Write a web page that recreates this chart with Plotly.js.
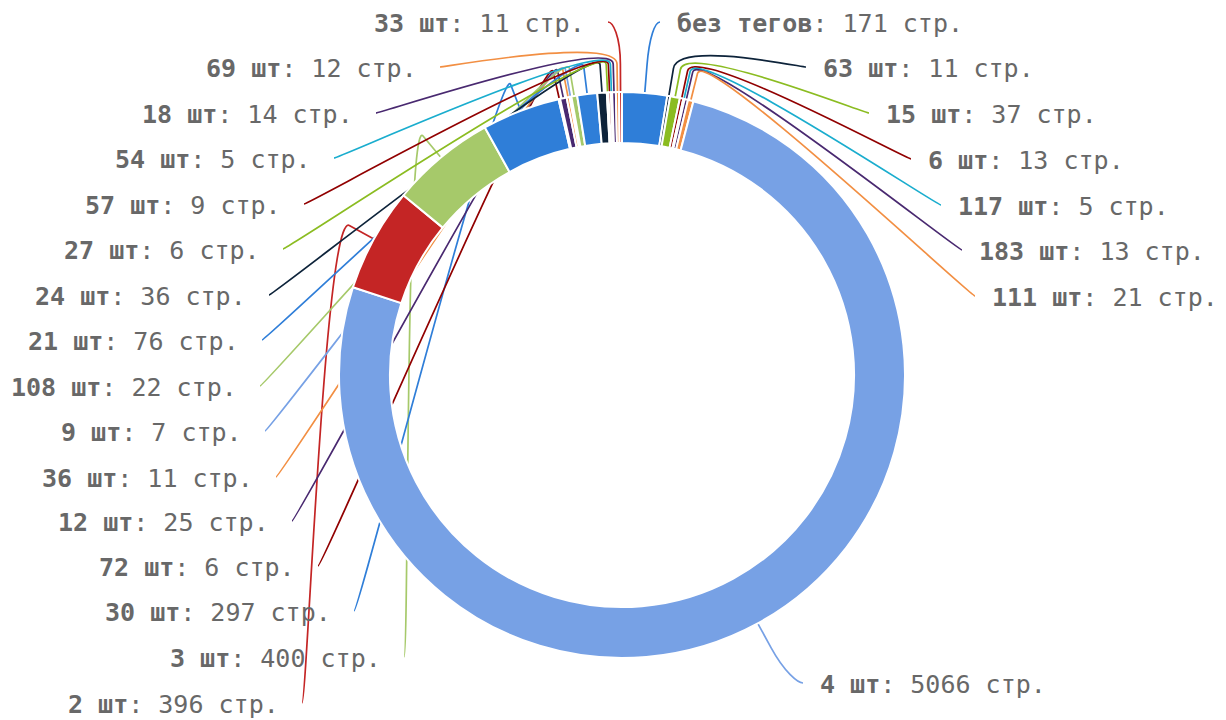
<!DOCTYPE html>
<html>
<head>
<meta charset="utf-8">
<script src="https://cdn.plot.ly/plotly-3.0.1.min.js"></script>
<style>
  html, body { margin: 0; padding: 0; background: #ffffff; }
  #chart { width: 1226px; height: 720px; }
</style>
</head>
<body>
<div id="chart"></div>
<script>
// ---- data (clockwise from 12 o'clock) ----
const tagCounts = ['без тегов', '63 шт', '15 шт', '6 шт', '117 шт', '183 шт', '111 шт', '4 шт',
  '2 шт', '3 шт', '30 шт', '72 шт', '12 шт', '36 шт', '9 шт', '108 шт', '21 шт', '24 шт',
  '27 шт', '57 шт', '54 шт', '18 шт', '69 шт', '33 шт'];
const pageCounts = [171, 11, 37, 13, 5, 13, 21, 5066, 396, 400, 297, 6, 25, 11, 7, 22, 76, 36,
  6, 9, 5, 14, 12, 11];
const unit = 'стр.';

// ---- styles / layout ----
const sliceColors = ['#2f7ed8', '#0d233a', '#8bbc21', '#910000', '#1aadce', '#492970', '#f28f43',
  '#77a1e5', '#c42525', '#a6c96a', '#2f7ed8', '#910000', '#492970', '#f28f43', '#77a1e5',
  '#a6c96a', '#2f7ed8', '#0d233a', '#8bbc21', '#910000', '#1aadce', '#492970', '#f28f43', '#c42525'];
// where each connector ends (label anchor, in pixels)
const labelAnchors = [[660, 22], [806, 67], [869, 113], [911, 159], [941, 205], [962, 250],
  [975, 296], [803, 683], [302, 703], [404, 657], [354, 611], [318, 566], [292, 521], [276, 477],
  [265, 431], [260, 386], [262, 340], [269, 295], [283, 249], [304, 204], [334, 158], [376, 113],
  [440, 67], [608, 22]];

const W = 1226, H = 720;
const CX = 622, CY = 375, R = 283, HOLE = 0.82, OFF = 28;
const px = x => x / W;
const py = y => 1 - y / H;

const total = pageCounts.reduce((a, b) => a + b, 0);
const shapes = [];
const annotations = [];
let cum = 0;
pageCounts.forEach((v, i) => {
  const mid = (cum + v / 2) / total * 2 * Math.PI;
  cum += v;
  const dx = Math.sin(mid), dy = -Math.cos(mid);
  const touch = [CX + R * dx, CY + R * dy];
  const brk = [CX + (R + OFF) * dx, CY + (R + OFF) * dy];
  const c2 = [2 * brk[0] - touch[0], 2 * brk[1] - touch[1]];
  const L = labelAnchors[i];
  const left = L[0] < CX;
  const c1 = [L[0] + (left ? 5 : -5), L[1]];
  const f = p => px(p[0]).toFixed(5) + ',' + py(p[1]).toFixed(5);
  shapes.push({
    type: 'path', xref: 'paper', yref: 'paper', layer: 'below',
    path: 'M' + f(L) + ' C' + f(c1) + ' ' + f(c2) + ' ' + f(brk) + ' L' + f(touch),
    line: { color: sliceColors[i], width: 1.7 }
  });
  annotations.push({
    xref: 'paper', yref: 'paper', showarrow: false, borderpad: 0,
    x: px(left ? L[0] - 22 : L[0] + 16), y: py(L[1] + 1.8),
    xanchor: left ? 'right' : 'left', yanchor: 'middle',
    text: '<b>' + tagCounts[i] + '</b>: ' + pageCounts[i] + ' ' + unit,
    font: { family: 'DejaVu Sans Mono, monospace', size: 25, color: '#686868' }
  });
});

const trace = {
  type: 'pie',
  labels: tagCounts,
  values: pageCounts,
  sort: false,
  direction: 'clockwise',
  rotation: 0,
  hole: HOLE,
  textinfo: 'none',
  textposition: 'none',
  hoverinfo: 'label+value',
  marker: { colors: sliceColors, line: { color: '#ffffff', width: 2 } },
  domain: { x: [px(CX - R), px(CX + R)], y: [py(CY + R), py(CY - R)] },
  showlegend: false
};

const layout = {
  width: W, height: H,
  margin: { l: 0, r: 0, t: 0, b: 0 },
  paper_bgcolor: '#ffffff',
  plot_bgcolor: '#ffffff',
  showlegend: false,
  shapes: shapes,
  annotations: annotations
};

Plotly.newPlot('chart', [trace], layout, { displayModeBar: false, staticPlot: true });
</script>
</body>
</html>
